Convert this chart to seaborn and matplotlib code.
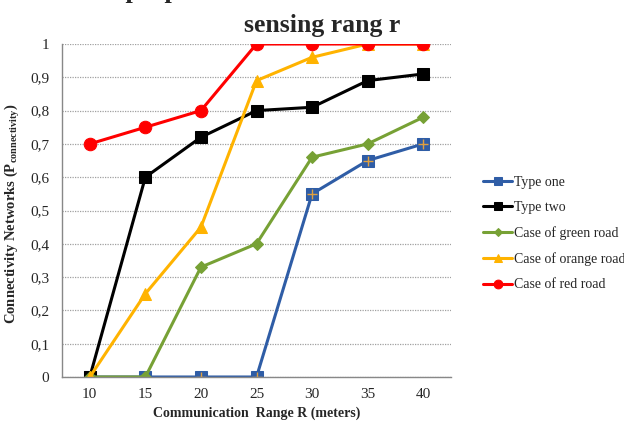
import matplotlib
matplotlib.use("Agg")
import matplotlib.pyplot as plt
import seaborn as sns
import pandas as pd

ranges = [10, 15, 20, 25, 30, 35, 40]
type_one = [0, 0, 0, 0, 0.55, 0.65, 0.70]
type_two = [0, 0.60, 0.72, 0.80, 0.81, 0.89, 0.91]
green_road = [0, 0, 0.33, 0.40, 0.66, 0.70, 0.78]
orange_road = [0, 0.25, 0.45, 0.89, 0.96, 1.0, 1.0]
red_road = [0.70, 0.75, 0.80, 1.0, 1.0, 1.0, 1.0]
series_names = ["Type one", "Type two", "Case of green road",
                "Case of orange road", "Case of red road"]
y_ticks = [0, 0.1, 0.2, 0.3, 0.4, 0.5, 0.6, 0.7, 0.8, 0.9, 1.0]

sns.set_theme(style="white")
plt.rcParams["font.family"] = ["Liberation Serif", "DejaVu Serif"]
plt.rcParams["mathtext.fontset"] = "custom"
plt.rcParams["mathtext.bf"] = "Liberation Serif:bold"
plt.rcParams["mathtext.rm"] = "Liberation Serif"

df = pd.DataFrame({
    "R": ranges * 5,
    "P": type_one + type_two + green_road + orange_road + red_road,
    "series": sum([[n] * len(ranges) for n in series_names], []),
})

colors = {"Type one": "#2F5DA6", "Type two": "#000000",
          "Case of green road": "#77A135", "Case of orange road": "#FFB300",
          "Case of red road": "#FF0000"}
markers = {"Type one": "s", "Type two": "s", "Case of green road": "D",
           "Case of orange road": "^", "Case of red road": "o"}
msizes = {"Type one": 8, "Type two": 8, "Case of green road": 6,
          "Case of orange road": 9, "Case of red road": 9}

fig = plt.figure(figsize=(6.24, 4.21), dpi=100)
ax = fig.add_axes([62 / 624, 1 - 377 / 421, 389 / 624, 333 / 421])

for name in series_names:
    sub = df[df["series"] == name]
    sns.lineplot(data=sub, x="R", y="P", ax=ax, color=colors[name],
                 marker=markers[name], markersize=msizes[name],
                 markeredgecolor=colors[name], linewidth=2.2, label=name,
                 legend=False)
    if name == "Type one":
        ax.plot(sub["R"], sub["P"], linestyle="none", marker="+",
                markersize=7, color="#E0A040", markeredgewidth=1.0)

ax.set_xlim(7.5, 42.5)
ax.set_ylim(0, 1)
ax.set_xticks(ranges)
ax.set_xticklabels([str(r) for r in ranges], fontsize=11)
ax.set_xticks([7.5 + 5 * i for i in range(8)], minor=True)
ax.set_yticks(y_ticks)
ax.set_yticklabels(["0" if v == 0 else ("1" if v == 1 else f"{v:.1f}".replace(".", ","))
                    for v in y_ticks], fontsize=11)
ax.tick_params(axis="x", which="major", length=0, pad=8)
ax.tick_params(axis="x", which="minor", length=5, color="#888888", direction="out")
ax.tick_params(axis="y", length=5, color="#888888", direction="out", pad=4)
ax.yaxis.grid(True, color="#A0A0A0", linestyle=(0, (1, 1)), linewidth=0.9)
ax.set_axisbelow(True)
for side in ["top", "right"]:
    ax.spines[side].set_visible(False)
for side in ["left", "bottom"]:
    ax.spines[side].set_color("#888888")
    ax.spines[side].set_linewidth(1.0)

ax.set_xlabel("Communication  Range R (meters)", fontsize=10, fontweight="bold")
ax.xaxis.set_label_coords(0.5, -0.088)
ax.set_ylabel(r"Connectivity Networks (P$_{\mathbf{connectivity}}$)", fontsize=10.5,
              fontweight="bold")
ax.yaxis.set_label_coords(-0.104, 0.49)

fig.text(0.608, 1 + 2.5 / 421, "The proportion of connected networks with increasing",
         ha="center", va="baseline", fontsize=19, fontweight="bold")
fig.text(0.517, 1 - 32 / 421, "sensing rang r", ha="center", va="baseline",
         fontsize=18.5, fontweight="bold")

handles, labels = ax.get_legend_handles_labels()
leg = fig.legend(handles, labels, loc="upper left",
                 bbox_to_anchor=(483 / 624, 1 - 176 / 421), frameon=False,
                 fontsize=10, handlelength=2.1, handletextpad=0.15,
                 labelspacing=0.88, borderaxespad=0, borderpad=0,
                 markerscale=0.7)

fig.savefig("out.png", dpi=100)
